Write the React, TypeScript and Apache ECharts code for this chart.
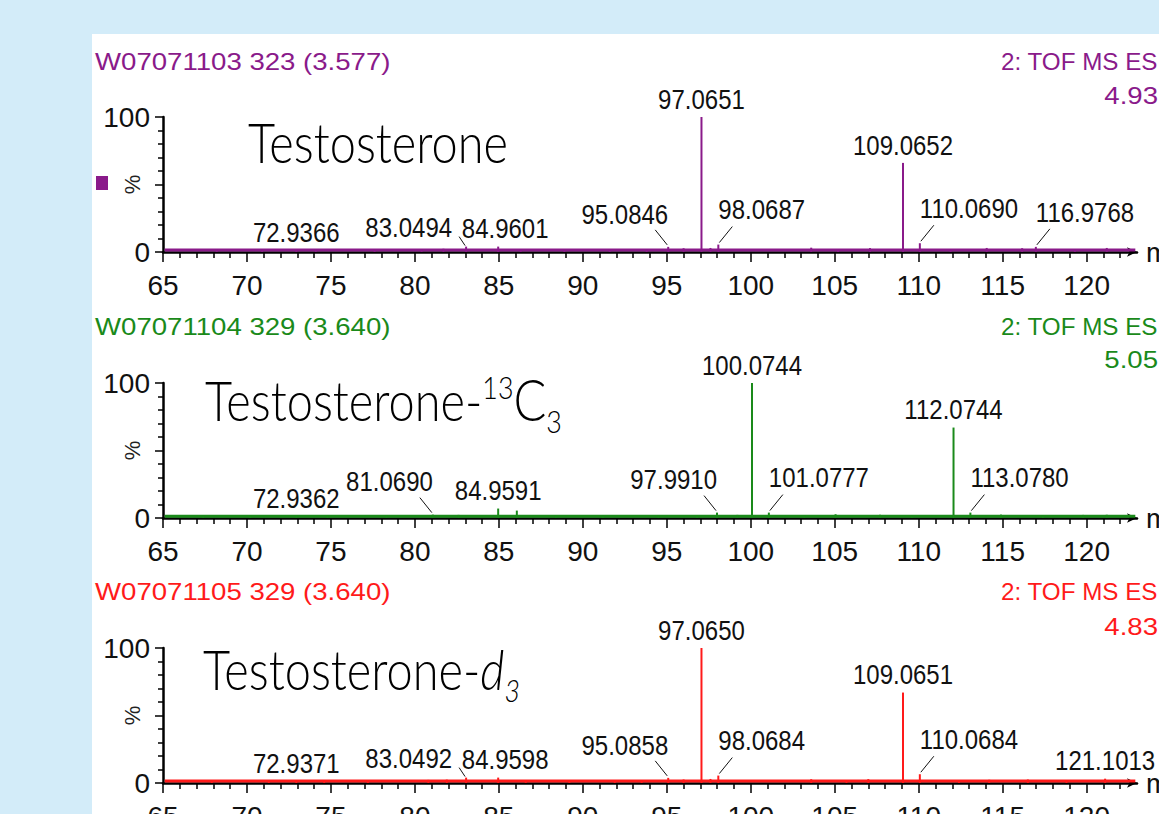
import React, { useEffect, useRef } from 'react';
import * as echarts from 'echarts';

// ---------- axis values ----------
const X_MIN = 65;
const X_MAX = 123;
const majorTicks = [65, 70, 75, 80, 85, 90, 95, 100, 105, 110, 115, 120];
const minorTicks = [66, 67, 68, 69, 71, 72, 73, 74, 76, 77, 78, 79, 81, 82, 83, 84, 86, 87, 88, 89, 91, 92, 93, 94, 96, 97, 98, 99, 101, 102, 103, 104, 106, 107, 108, 109, 111, 112, 113, 114, 116, 117, 118, 119, 121, 122];
const yLabels = [0, 100];

// ---------- panel 1 : Testosterone ----------
const p1Header = 'W07071103 323 (3.577)';
const p1Mode = '2: TOF MS ES';
const p1Scale = '4.93';
const p1LabeledMz = [97.0651, 109.0652, 95.0846, 98.0687, 110.069, 116.9768, 72.9366, 83.0494, 84.9601];
const p1LabeledInt = [100, 66, 3.8, 5.5, 6.5, 3.8, 1.6, 4, 4];
const p1LabelPlace = ['top', 'top', 'upLeft', 'upRight', 'upRight', 'upRight', 'top', 'leftLow', 'topRight'];
const p1MinorMz = [68.2, 70.9, 74.1, 77.6, 80.4, 81.7, 86.3, 88.9, 91.6, 93.8, 96.0, 97.6, 103.6, 105.2, 107.1, 111.9, 114.05, 116.16, 119.3, 121.2];
const p1MinorInt = [1.8, 1.6, 1.9, 1.7, 2.2, 2.4, 2.1, 1.8, 2.0, 2.2, 2.8, 3.0, 3.2, 2.2, 2.9, 2.1, 3.0, 2.8, 2.2, 3.0];
const p1Noise = [[65.1, 1.4], [122.9, 1.4]];

// ---------- panel 2 : Testosterone-13C3 ----------
const p2Header = 'W07071104 329 (3.640)';
const p2Mode = '2: TOF MS ES';
const p2Scale = '5.05';
const p2LabeledMz = [100.0744, 112.0744, 97.991, 101.0777, 113.078, 72.9362, 81.069, 84.9591];
const p2LabeledInt = [100, 67, 4, 4, 4, 1.5, 2.5, 7];
const p2LabelPlace = ['top', 'top', 'upLeft', 'upRight', 'upRight', 'top', 'upLeft', 'top'];
const p2MinorMz = [67.4, 70.2, 74.8, 78.3, 82.6, 86.07, 88.4, 91.2, 94.5, 96.8, 99.2, 103.2, 105.05, 107.7, 109.6, 114.9, 117.4, 119.8, 121.2];
const p2MinorInt = [1.8, 1.7, 1.9, 2.0, 2.3, 5.5, 2.1, 1.9, 2.2, 2.0, 2.3, 2.1, 2.8, 2.4, 2.2, 2.5, 2.2, 2.3, 2.4];
const p2Noise = [[65.1, 1.3], [122.9, 1.3]];

// ---------- panel 3 : Testosterone-d3 ----------
const p3Header = 'W07071105 329 (3.640)';
const p3Mode = '2: TOF MS ES';
const p3Scale = '4.83';
const p3LabeledMz = [97.065, 109.0651, 95.0858, 98.0684, 110.0684, 121.1013, 72.9371, 83.0492, 84.9598];
const p3LabeledInt = [100, 67, 3.8, 5.5, 6.5, 3.2, 1.6, 4, 4];
const p3LabelPlace = ['top', 'top', 'upLeft', 'upRight', 'upRight', 'top', 'top', 'leftLow', 'topRight'];
const p3MinorMz = [67.9, 71.3, 74.6, 77.2, 80.8, 81.9, 86.6, 89.2, 91.9, 93.5, 96.0, 97.6, 103.6, 105.7, 107.0, 112.4, 114.2, 116.5, 118.8];
const p3MinorInt = [1.8, 1.7, 1.9, 1.8, 2.3, 2.5, 2.0, 1.9, 2.1, 2.0, 2.6, 3.0, 2.8, 2.2, 2.9, 2.1, 2.4, 2.6, 2.2];
const p3Noise = [[65.1, 1.4], [122.9, 1.4]];

// ---------- layout & style ----------
const PURPLE = '#8a1a8a';
const GREEN = '#1a8a1a';
const RED = '#ff1a1a';
const GRID_TOPS = [117, 383, 648];
const GRID_LEFT = 163;
const GRID_WIDTH = 974;
const GRID_HEIGHT = 135;
const SANS = '"Liberation Sans", Arial, sans-serif';
const LABEL_SIZE = 24;

const PLACEMENT: Record<string, any> = {
  top: { tx: 0, ty: -4, align: 'center', leader: null },
  topRight: { tx: 7, ty: -4, align: 'center', leader: null },
  upLeft: { tx: 0, ty: -19, align: 'right', leader: [-1, -2, -13, -17] },
  upRight: { tx: 0, ty: -21, align: 'left', leader: [1, -2, 14, -18] },
  leftLow: { tx: -14, ty: -5, align: 'right', leader: [-1, -1, -7, -10] },
};

const panels = [
  { header: p1Header, mode: p1Mode, scale: p1Scale, lMz: p1LabeledMz, lInt: p1LabeledInt, place: p1LabelPlace, mMz: p1MinorMz, mInt: p1MinorInt, noise: p1Noise, color: PURPLE },
  { header: p2Header, mode: p2Mode, scale: p2Scale, lMz: p2LabeledMz, lInt: p2LabeledInt, place: p2LabelPlace, mMz: p2MinorMz, mInt: p2MinorInt, noise: p2Noise, color: GREEN },
  { header: p3Header, mode: p3Mode, scale: p3Scale, lMz: p3LabeledMz, lInt: p3LabeledInt, place: p3LabelPlace, mMz: p3MinorMz, mInt: p3MinorInt, noise: p3Noise, color: RED },
];

const TITLE_FONT = 'Lato';
const measure = (txt: string, font: string) => {
  const ctx = document.createElement('canvas').getContext('2d') as CanvasRenderingContext2D;
  ctx.font = font;
  return ctx.measureText(txt).width;
};

function buildTitle(pieces: any[], x0: number, baseline: number, sx: number) {
  let cur = x0;
  const els: any[] = [];
  pieces.forEach((p) => {
    const style = p.italic ? 'italic ' : '';
    const font = `${style}300 ${p.size}px ${TITLE_FONT}`;
    els.push({
      type: 'text',
      x: cur,
      y: baseline - (p.rise || 0) - 0.387 * p.size,
      scaleX: sx,
      style: {
        text: p.text,
        fontFamily: TITLE_FONT,
        fontWeight: 300,
        fontStyle: p.italic ? 'italic' : 'normal',
        fontSize: p.size,
        fill: '#000',
        align: 'left',
        verticalAlign: 'middle',
      },
    });
    cur += measure(p.text, font) * sx + (p.gap || 0);
  });
  return els;
}

export default function App() {
  const ref = useRef<HTMLDivElement>(null);
  useEffect(() => {
    if (!ref.current) return;
    const chart = echarts.init(ref.current, undefined, { renderer: 'svg' });

    const sx = 260 / measure('Testosterone', `300 56px ${TITLE_FONT}`);
    const headerFont = `23px ${SANS}`;

    const grids = GRID_TOPS.map((t) => ({
      left: GRID_LEFT, top: t, width: GRID_WIDTH, height: GRID_HEIGHT,
      containLabel: false, outerBoundsMode: 'none',
    }));

    const mainX = GRID_TOPS.map((_, i) => ({
      type: 'value', gridIndex: i, min: X_MIN, max: X_MAX, interval: 5, position: 'bottom',
      name: 'm/z', nameLocation: 'end', nameGap: 9, nameMoveOverlap: false,
      nameTextStyle: { fontSize: 28, color: '#111', fontFamily: SANS },
      axisLine: { show: true, onZero: false, symbol: ['none', 'arrow'], symbolSize: [7, 10], lineStyle: { color: '#000', width: 2.5 } },
      axisTick: { show: true, length: 10, customValues: majorTicks, lineStyle: { color: '#000', width: 1.5 } },
      axisLabel: { show: true, customValues: majorTicks, fontSize: 28, color: '#111', margin: 19, fontFamily: SANS,
        formatter: (v: number) => (v % 5 === 0 ? String(v) : '') },
      splitLine: { show: false },
    }));
    const minorX = GRID_TOPS.map((_, i) => ({
      type: 'value', gridIndex: i, min: X_MIN, max: X_MAX, position: 'bottom',
      axisLine: { show: false },
      axisTick: { show: true, length: 6, customValues: minorTicks, lineStyle: { color: '#000', width: 1.5 } },
      axisLabel: { show: false },
      splitLine: { show: false },
    }));
    const yAxes = GRID_TOPS.map((_, i) => ({
      type: 'value', gridIndex: i, min: 0, max: 100, interval: 50,
      name: '%', nameLocation: 'middle', nameGap: 20, nameRotate: 90, nameMoveOverlap: false,
      nameTextStyle: { fontSize: 22, color: '#222', fontFamily: SANS },
      axisLine: { show: true, lineStyle: { color: '#000', width: 2.5 } },
      axisTick: { show: true, length: 8, lineStyle: { color: '#000', width: 1.5 } },
      minorTick: { show: true, splitNumber: 5, length: 5, lineStyle: { color: '#000', width: 1.5 } },
      axisLabel: { fontSize: 28, color: '#111', margin: 13, fontFamily: SANS,
        formatter: (v: number) => (yLabels.includes(v) ? String(v) : '') },
      splitLine: { show: false },
      minorSplitLine: { show: false },
    }));

    const series: any[] = [];
    panels.forEach((p, i) => {
      const color = p.color;
      series.push({
        type: 'line', xAxisIndex: i, yAxisIndex: i, data: p.noise, showSymbol: false, silent: true,
        lineStyle: { color, width: 3 }, z: 3,
      });
      const stick = (params: any, api: any) => {
        const x = api.value(0);
        const y = api.value(1);
        const a = api.coord([x, 0]);
        const b = api.coord([x, y]);
        return { type: 'line', shape: { x1: a[0], y1: a[1], x2: b[0], y2: b[1] }, style: { stroke: color, lineWidth: 2 } };
      };
      series.push({
        type: 'custom', xAxisIndex: i, yAxisIndex: i, renderItem: stick, silent: true, z: 4,
        data: p.mMz.map((m, k) => [m, p.mInt[k]]),
      });
      const places = p.place;
      const labeled = (params: any, api: any) => {
        const x = api.value(0);
        const y = api.value(1);
        const a = api.coord([x, 0]);
        const b = api.coord([x, y]);
        const L = PLACEMENT[places[params.dataIndex]];
        const children: any[] = [
          { type: 'line', shape: { x1: a[0], y1: a[1], x2: b[0], y2: b[1] }, style: { stroke: color, lineWidth: 2 } },
          {
            type: 'text', x: b[0] + L.tx, y: b[1] + L.ty, scaleY: 1.15,
            style: { text: x.toFixed(4), fontSize: LABEL_SIZE, fontFamily: SANS, fill: '#111', align: L.align, verticalAlign: 'bottom' },
          },
        ];
        if (L.leader) {
          children.push({
            type: 'line',
            shape: { x1: b[0] + L.leader[0], y1: b[1] + L.leader[1], x2: b[0] + L.leader[2], y2: b[1] + L.leader[3] },
            style: { stroke: '#111', lineWidth: 1 },
          });
        }
        return { type: 'group', children };
      };
      series.push({
        type: 'custom', xAxisIndex: i, yAxisIndex: i, renderItem: labeled, silent: true, z: 5,
        data: p.lMz.map((m, k) => [m, p.lInt[k]]),
      });
    });

    const headerEls: any[] = [];
    const headerY = [62, 327, 592];
    const scaleY = [96, 360, 627];
    panels.forEach((p, i) => {
      const st = { fontFamily: SANS, fontSize: 23, fill: p.color, verticalAlign: 'middle' };
      const modeScale = 157 / measure(p.mode, headerFont);
      headerEls.push({ type: 'text', x: 95, y: headerY[i], scaleX: 1.2, style: { ...st, align: 'left', text: p.header } });
      headerEls.push({ type: 'text', x: 1001, y: headerY[i], scaleX: modeScale, style: { ...st, align: 'left', text: p.mode } });
      headerEls.push({ type: 'text', x: 1158, y: scaleY[i], scaleX: 1.2, style: { ...st, align: 'right', text: p.scale } });
    });

    const titles = [
      ...buildTitle([{ text: 'Testosterone', size: 56 }], 248, 163, sx),
      ...buildTitle([
        { text: 'Testosterone-', size: 56 },
        { text: '13', size: 32, rise: 22 },
        { text: 'C', size: 58 },
        { text: '3', size: 32, rise: -12 },
      ], 205, 421, sx),
      ...buildTitle([
        { text: 'Testosterone-', size: 56 },
        { text: 'd', size: 56, italic: true },
        { text: '3', size: 32, rise: -12, italic: true },
      ], 203, 690, sx),
    ];

    chart.setOption({
      animation: false,
      backgroundColor: 'transparent',
      textStyle: { fontFamily: SANS },
      grid: grids,
      xAxis: [...mainX, ...minorX],
      yAxis: yAxes,
      series,
      graphic: [
        ...headerEls,
        ...titles,
        { type: 'rect', shape: { x: 96, y: 176, width: 12, height: 14 }, style: { fill: PURPLE } },
      ],
    });
    return () => chart.dispose();
  }, []);

  return (
    <div style={{ position: 'fixed', left: 0, top: 0, width: 1159, height: 814, background: '#d3ecf9', overflow: 'hidden' }}>
      <div style={{ position: 'absolute', left: 92, top: 34, width: 1067, height: 780, background: '#ffffff' }} />
      <div ref={ref} style={{ position: 'absolute', left: 0, top: 0, width: 1159, height: 814 }} />
    </div>
  );
}
